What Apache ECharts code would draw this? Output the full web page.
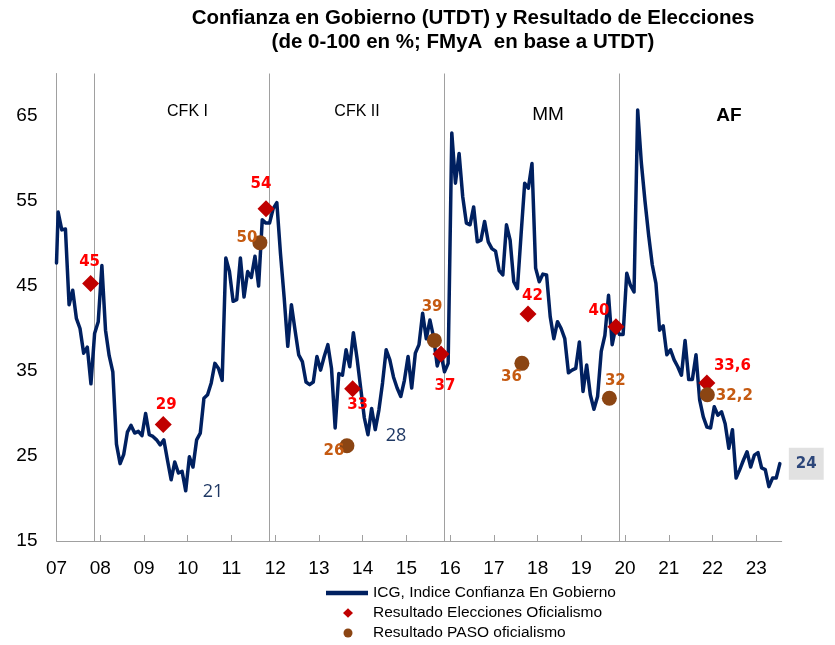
<!DOCTYPE html>
<html><head><meta charset="utf-8">
<script src="https://cdn.jsdelivr.net/npm/echarts@6/dist/echarts.min.js"></script>
<style>html,body{margin:0;padding:0;background:#fff}#c{width:835px;height:645px}</style>
</head><body><div id="c"></div>
<script>
// ---------- DATA ----------
const icgStartValue = 47.7;          // value where the line starts, at the left edge (2007.0)
const icgFirstYear = 2007;           // monthly series starting January 2007
const icgMonthly = [
  53.7,51.6,51.7,42.8,44.5,41.2,40.0,37.1,37.8,33.5,39.4,40.8,
  47.4,39.8,36.8,34.9,26.4,24.1,25.2,27.8,28.6,27.7,27.9,27.4,
  30.0,27.5,27.3,26.9,26.3,26.9,24.5,22.2,24.3,23.0,23.2,20.9,
  24.9,23.7,26.9,27.7,31.8,32.2,33.6,35.9,35.3,33.9,48.3,46.7,
  43.2,43.4,48.3,43.7,46.7,46.0,48.5,45.0,52.8,52.4,52.4,54.1,
  54.8,48.8,43.7,37.9,42.8,39.8,36.9,36.1,33.7,33.4,33.7,36.7,
  35.1,36.7,38.1,35.3,28.3,34.7,34.5,37.5,35.5,39.5,36.5,33.0,
  29.5,27.5,30.6,28.1,30.4,33.6,37.5,36.3,34.3,33.0,32.0,33.9,
  36.7,33.0,37.1,38.1,41.8,38.8,41.0,39.0,35.6,37.1,34.9,35.9,
  63.0,57.1,60.6,55.5,52.4,52.2,54.3,50.2,50.4,52.6,50.2,49.4,
  49.1,46.8,46.3,52.2,50.4,45.5,44.7,51.0,57.1,56.5,59.4,47.1,
  45.5,46.4,46.3,41.4,38.8,40.8,40.0,38.8,34.8,35.1,35.3,38.4,
  32.6,35.7,32.2,30.5,32.0,37.3,39.2,43.9,38.1,40.2,39.3,39.3,
  46.5,45.1,44.3,65.7,59.5,55.0,51.0,47.5,45.3,39.8,40.3,36.9,
  37.5,36.3,35.5,34.5,38.6,34.0,34.0,36.9,31.6,29.6,28.4,28.3,
  30.8,29.8,30.2,28.8,25.9,28.1,22.4,23.4,24.5,25.5,23.7,25.1,
  25.4,23.6,23.4,21.4,22.4,22.4,24.1
];
const electionDates  = [2007.78, 2009.44, 2011.79, 2013.77, 2015.79, 2017.78, 2019.79, 2021.87];
const electionValues = [45.3, 28.7, 54.1, 32.9, 37.0, 41.7, 40.2, 33.6];
const electionLabels = ['45', '29', '54', '33', '37', '42', '40', '33,6'];
const pasoDates  = [2011.65, 2013.64, 2015.64, 2017.64, 2019.64, 2021.88];
const pasoValues = [50.1, 26.2, 38.6, 35.9, 31.8, 32.2];
const pasoLabels = ['50', '26', '39', '36', '32', '32,2'];
const periodStarts = [2007.864, 2011.866, 2015.868, 2019.87];
const periodNames = ['CFK I', 'CFK II', 'MM', 'AF'];
const lowNotes = ['21', '28'];
const lastValueLabel = '24';
const yearTicks = [2007,2008,2009,2010,2011,2012,2013,2014,2015,2016,2017,2018,2019,2020,2021,2022,2023];
const yearTickLabels = ['07','08','09','10','11','12','13','14','15','16','17','18','19','20','21','22','23'];
const yTicks = [15, 25, 35, 45, 55, 65];
const seriesNames = ['ICG, Indice Confianza En Gobierno', 'Resultado Elecciones Oficialismo', 'Resultado PASO oficialismo'];
const titleLines = ['Confianza en Gobierno (UTDT) y Resultado de Elecciones', '(de 0-100 en %; FMyA  en base a UTDT)'];

// ---------- STYLE (label offsets in px relative to marker centre) ----------
const electionOffsets = [[-1,-21],[3,-19],[-5,-24.5],[5,16.5],[4,32],[4.5,-17.5],[-17,-15.5],[25.5,-16.5]];
const pasoOffsets = [[-13,-4.5],[-13,5],[-2.3,-33],[-10.5,14],[6,-17],[27,1]];

// ---------- BUILD ----------
const lineData = [[icgFirstYear, icgStartValue]].concat(
  icgMonthly.map((v, i) => [icgFirstYear + (i + 0.45) / 12, v])
);
const lastPoint = lineData[lineData.length - 1];
const navy = '#002060', grey = '#A0A0A0';
const numFont = '"DejaVu Sans", sans-serif';
const sans = '"Liberation Sans", Arial, sans-serif';

const chart = echarts.init(document.getElementById('c'), null, {renderer: 'canvas'});
const txt = (x, y, text, font, fill) => ({type: 'text', x: x, y: y, silent: true,
  style: {text: text, font: font, fill: fill, textAlign: 'center', textVerticalAlign: 'middle', align: 'center', verticalAlign: 'middle'}});
const option = {
  animation: false,
  backgroundColor: '#fff',
  grid: {left: 56.5, right: 53.3, top: 73.5, bottom: 104},
  xAxis: {
    type: 'value', min: 2007, max: 2023.58,
    axisLine: {show: true, lineStyle: {color: grey, width: 1}},
    axisTick: {show: true, inside: true, length: 6, customValues: yearTicks, lineStyle: {color: grey}},
    axisLabel: {customValues: yearTicks, formatter: v => yearTickLabels[yearTicks.indexOf(v)] || '',
      fontFamily: sans, fontSize: 19, color: '#000', margin: 18},
    splitLine: {show: false}
  },
  yAxis: {
    type: 'value', min: 15, max: 70,
    axisLine: {show: true, lineStyle: {color: grey, width: 1}},
    axisTick: {show: false},
    axisLabel: {customValues: yTicks, fontFamily: sans, fontSize: 19, color: '#000', margin: 19},
    splitLine: {show: false}
  },
  legend: {
    orient: 'vertical', left: 326, top: 583, padding: 0,
    itemWidth: 42, itemHeight: 14, itemGap: 0, selectedMode: false,
    textStyle: {fontFamily: sans, fontSize: 15.5, color: '#000', lineHeight: 20},
    data: [
      {name: seriesNames[0], icon: 'path://M0,0M42,14M0,4.7L42,4.7L42,9.3L0,9.3Z', itemStyle: {color: navy, borderWidth: 0, opacity: 1}},
      {name: seriesNames[1], icon: 'path://M0,0M42,14M22,2.3L27,7L22,11.7L17,7Z', itemStyle: {color: '#C00000', borderWidth: 0, opacity: 1}},
      {name: seriesNames[2], icon: 'path://M0,0M42,14M17.5,7A4.5,4.5,0,1,1,26.5,7A4.5,4.5,0,1,1,17.5,7Z', itemStyle: {color: '#8B4513', borderWidth: 0, opacity: 1}}
    ]
  },
  series: [
    {
      name: seriesNames[0], type: 'line', data: lineData, showSymbol: false, symbol: 'none',
      color: navy, lineStyle: {color: navy, width: 3.5, cap: 'round', join: 'round'},
      itemStyle: {color: navy}, z: 3,
      markLine: {
        silent: true, symbol: ['none', 'none'], z: 1,
        label: {show: false},
        lineStyle: {color: grey, type: 'solid', width: 1},
        data: periodStarts.map(x => ({xAxis: x}))
      }
    },
    {
      name: seriesNames[1], type: 'scatter', symbol: 'diamond', symbolSize: 17, z: 4,
      itemStyle: {color: '#C00000', opacity: 1},
      label: {show: true, position: 'inside', color: '#FF0000', fontWeight: 'bold', fontSize: 15, fontFamily: numFont},
      data: electionDates.map((d, i) => ({value: [d, electionValues[i]], label: {formatter: electionLabels[i], offset: electionOffsets[i]}}))
    },
    {
      name: seriesNames[2], type: 'scatter', symbol: 'circle', symbolSize: 15, z: 5,
      itemStyle: {color: '#8B4513', opacity: 1},
      label: {show: true, position: 'inside', color: '#C55A11', fontWeight: 'bold', fontSize: 15, fontFamily: numFont},
      data: pasoDates.map((d, i) => ({value: [d, pasoValues[i]], label: {formatter: pasoLabels[i], offset: pasoOffsets[i]}}))
    },
    {
      name: 'last', type: 'scatter', symbol: 'circle', symbolSize: 0, z: 6, silent: true,
      data: [lastPoint],
      label: {show: true, position: 'right', distance: 9, formatter: lastValueLabel,
        backgroundColor: '#D9D9D9', padding: [9, 7, 8, 7], color: navy, fontWeight: 'bold', fontSize: 15, fontFamily: numFont}
    }
  ],
  graphic: [
    txt(473, 18, titleLines[0], 'bold 20.5px "Liberation Sans", Arial, sans-serif', '#000'),
    txt(463, 42, titleLines[1], 'bold 20.5px "Liberation Sans", Arial, sans-serif', '#000'),
    txt(187.5, 112, periodNames[0], '16px "Liberation Sans", Arial, sans-serif', '#000'),
    txt(357, 112, periodNames[1], '16px "Liberation Sans", Arial, sans-serif', '#000'),
    txt(548, 114.5, periodNames[2], '19px "Liberation Sans", Arial, sans-serif', '#000'),
    txt(729, 115.5, periodNames[3], 'bold 19px "Liberation Sans", Arial, sans-serif', '#000'),
    txt(213, 492, lowNotes[0], '18px "Open Sans", sans-serif', '#1F3864'),
    txt(396, 436, lowNotes[1], '18px "Open Sans", sans-serif', '#1F3864')
  ]
};
chart.setOption(option);
</script>
</body></html>
